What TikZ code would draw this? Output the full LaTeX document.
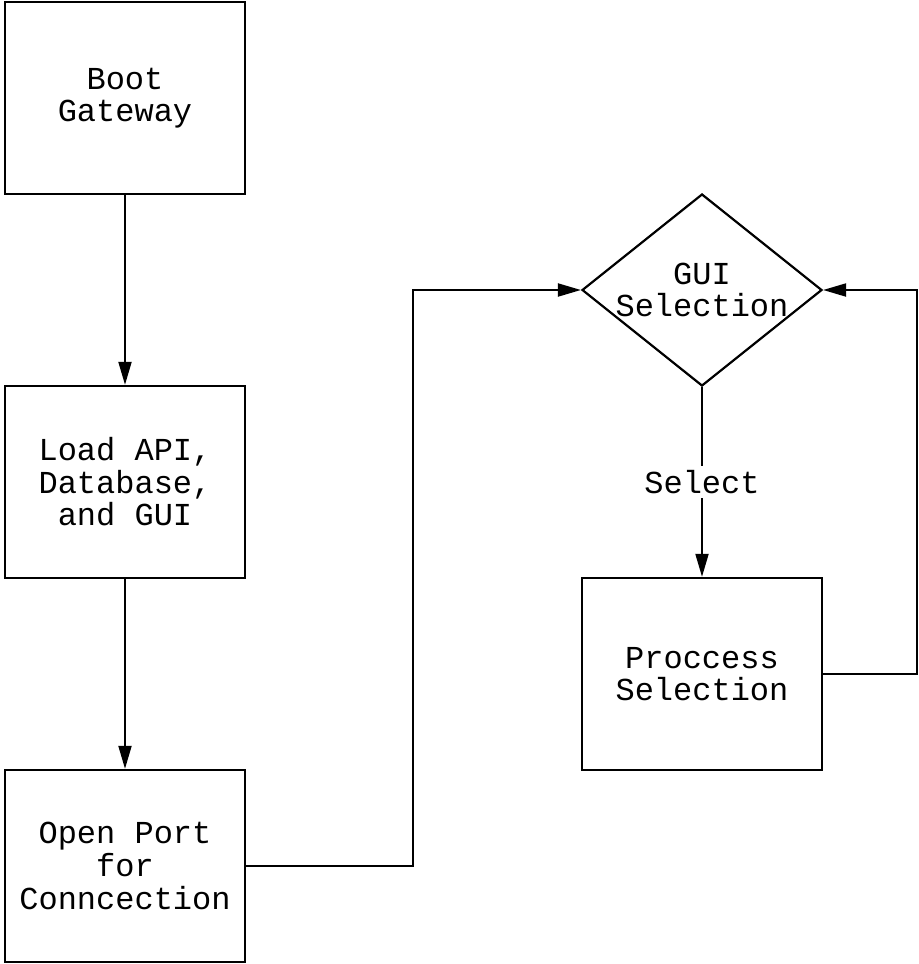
\documentclass[tikz,border=0pt]{standalone}
\usepackage{fontspec}
\newfontfamily\flowmono{Liberation Mono}
\usetikzlibrary{arrows.meta,shapes.geometric}

\tikzset{
  stepbox/.style={draw, line width=1.2pt, fill=white, inner sep=0pt,
    minimum width=120pt, minimum height=96pt, align=center,
    font=\flowmono\fontsize{16}{16.3}\selectfont},
  choice/.style={draw, line width=1.1pt, diamond, inner sep=0pt,
    minimum width=120pt, minimum height=96pt},
  choicetext/.style={align=center, font=\flowmono\fontsize{16}{16.3}\selectfont},
  flow/.style={line width=1pt, -{Triangle[length=11.5pt,width=6.5pt]}},
  edgelabel/.style={fill=white, inner sep=2pt,
    font=\flowmono\fontsize{16}{16.3}\selectfont}
}

\begin{document}
\begin{tikzpicture}[x=0.5pt, y=-0.5pt]
  \useasboundingbox (0,0) rectangle (919,964);

  % left column
  \node[stepbox] (boot) at (125,98)  {Boot\\Gateway};
  \node[stepbox] (load) at (125,482) {Load API,\\Database,\\and GUI};
  \node[stepbox] (open) at (125,866) {Open Port\\for\\Conncection};

  % right column
  \node[choice] (gui) at (702,290) {};
  \node[choicetext] (guitext) at (gui.center) {GUI\\Selection};
  \node[stepbox] (proc) at (702,674) {Proccess\\Selection};

  % bend points of the routed connectors
  \coordinate (bendA) at (413,0);
  \coordinate (bendB) at (917,0);

  \draw[flow] (boot) -- (load);
  \draw[flow] (load) -- (open);
  \draw[flow] (open.east) -- (open.east -| bendA) -- (bendA |- gui.west) -- (gui.west);
  \draw[flow] (gui.south) -- node[edgelabel] {Select} (proc.north);
  \draw[flow] (proc.east) -- (proc.east -| bendB) -- (bendB |- gui.east) -- (gui.east);
\end{tikzpicture}
\end{document}
